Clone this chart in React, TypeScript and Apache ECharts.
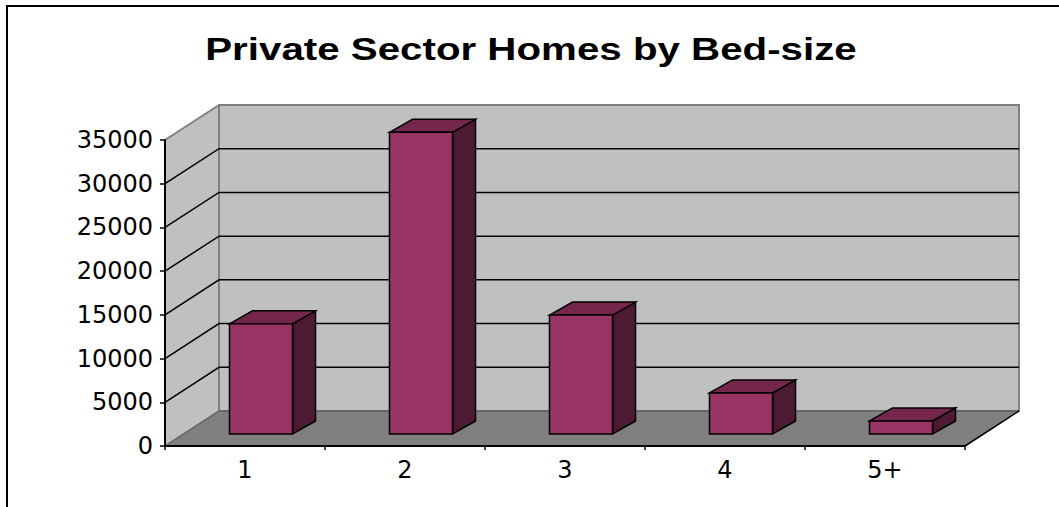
import React, { useEffect, useRef } from "react";
import * as echarts from "echarts";

const titleText = "Private Sector Homes by Bed-size";
const categories = ["1", "2", "3", "4", "5+"];
const homes = [12600, 34500, 13600, 4700, 1500];
const yTicks = [0, 5000, 10000, 15000, 20000, 25000, 30000, 35000];

const DX = 54;
const DY = -35;

export default function App() {
  const ref = useRef<HTMLDivElement>(null);
  useEffect(() => {
    if (!ref.current) return;
    const chart = echarts.init(ref.current, null, { renderer: "svg" });
    const yMax = yTicks[yTicks.length - 1];
    const option: any = {
      animation: false,
      backgroundColor: "#ffffff",
      grid: { left: 165, top: 140, width: 800, height: 306 },
      graphic: [
        {
          type: "rect",
          shape: { x: 7, y: 6, width: 1120, height: 620 },
          style: { fill: "none", stroke: "#000", lineWidth: 2 },
          z: 0,
        },
        {
          type: "text",
          x: 531,
          y: 49,
          scaleX: 1.3,
          style: {
            text: titleText,
            font: "bold 31px 'Liberation Sans', Arial, sans-serif",
            fill: "#000",
            textAlign: "center",
            textVerticalAlign: "middle",
          },
        },
      ],
      xAxis: {
        type: "category",
        data: categories,
        z: 10,
        axisLine: { show: true, lineStyle: { color: "#000", width: 2 } },
        axisTick: { show: true, length: 4, lineStyle: { color: "#000", width: 1.5 } },
        axisLabel: {
          margin: 12,
          color: "#000",
          fontSize: 24,
          fontFamily: "'DejaVu Sans', sans-serif",
        },
        splitLine: { show: false },
      },
      yAxis: {
        type: "value",
        min: 0,
        max: yMax,
        interval: 5000,
        z: 10,
        axisLine: { show: true, lineStyle: { color: "#000", width: 2 } },
        axisTick: { show: true, length: 5, lineStyle: { color: "#000", width: 1.5 } },
        axisLabel: {
          margin: 12,
          color: "#000",
          fontSize: 24,
          fontFamily: "'DejaVu Sans', sans-serif",
          formatter: (v: number) => String(v),
        },
        splitLine: { show: false },
      },
      series: [
        {
          type: "custom",
          name: "frame",
          z: 1,
          silent: true,
          clip: false,
          data: [[0, 0]],
          renderItem: (params: any, api: any) => {
            const cs = params.coordSys;
            const x0 = cs.x;
            const x1 = cs.x + cs.width;
            const yb = api.coord([0, 0])[1];
            const yt = api.coord([0, yMax])[1];
            const children: any[] = [];
            children.push({
              type: "polygon",
              shape: { points: [[x0, yb], [x0, yt], [x0 + DX, yt + DY], [x0 + DX, yb + DY]] },
              style: { fill: "#c0c0c0", stroke: null },
            });
            children.push({
              type: "polygon",
              shape: { points: [[x0 + DX, yt + DY], [x1 + DX, yt + DY], [x1 + DX, yb + DY], [x0 + DX, yb + DY]] },
              style: { fill: "#c0c0c0", stroke: "#808080", lineWidth: 2 },
            });
            children.push({
              type: "polygon",
              shape: { points: [[x0, yb], [x1, yb], [x1 + DX, yb + DY], [x0 + DX, yb + DY]] },
              style: { fill: "#808080", stroke: null },
            });
            yTicks.forEach((v) => {
              if (v === 0 || v === yMax) return;
              const y = api.coord([0, v])[1];
              children.push({
                type: "polyline",
                shape: { points: [[x0, y], [x0 + DX, y + DY], [x1 + DX, y + DY]] },
                style: { fill: null, stroke: "#000", lineWidth: 1.5 },
              });
            });
            children.push({
              type: "line",
              shape: { x1: x0, y1: yt, x2: x0 + DX, y2: yt + DY },
              style: { stroke: "#808080", lineWidth: 2 },
            });
            children.push({
              type: "line",
              shape: { x1: x0, y1: yb, x2: x0 + DX, y2: yb + DY },
              style: { stroke: "#6a6a6a", lineWidth: 1.5 },
            });
            children.push({
              type: "line",
              shape: { x1: x0 + DX, y1: yb + DY, x2: x1 + DX, y2: yb + DY },
              style: { stroke: "#666666", lineWidth: 2 },
            });
            children.push({
              type: "line",
              shape: { x1: x1, y1: yb, x2: x1 + DX, y2: yb + DY },
              style: { stroke: "#000", lineWidth: 1.5 },
            });
            return { type: "group", children };
          },
        },
        {
          type: "custom",
          name: "Homes",
          z: 5,
          clip: false,
          data: homes.map((v, i) => [i, v]),
          renderItem: (params: any, api: any) => {
            const base = api.coord([api.value(0), 0]);
            const top = api.coord([api.value(0), api.value(1)]);
            const band = api.size([1, 0])[0];
            const hw = band * 0.197;
            const sx = 16;
            const lift = 12;
            const bdx = 23;
            const bdy = -13;
            const fl = base[0] - hw + sx;
            const fr = base[0] + hw + sx;
            const fb = base[1] - lift;
            const ft = top[1] - lift;
            const stroke = { stroke: "#000", lineWidth: 1.5, lineJoin: "miter" };
            return {
              type: "group",
              children: [
                {
                  type: "polygon",
                  shape: { points: [[fr, ft], [fr + bdx, ft + bdy], [fr + bdx, fb + bdy], [fr, fb]] },
                  style: { fill: "#4d1a33", ...stroke },
                },
                {
                  type: "polygon",
                  shape: { points: [[fl, ft], [fl + bdx, ft + bdy], [fr + bdx, ft + bdy], [fr, ft]] },
                  style: { fill: "#74264d", ...stroke },
                },
                {
                  type: "polygon",
                  shape: { points: [[fl, ft], [fr, ft], [fr, fb], [fl, fb]] },
                  style: { fill: "#993366", ...stroke },
                },
              ],
            };
          },
        },
      ],
    };
    chart.setOption(option);
    return () => chart.dispose();
  }, []);
  return (
    <div
      ref={ref}
      style={{ position: "fixed", left: 0, top: 0, width: 1059, height: 507, background: "#fff" }}
    />
  );
}
